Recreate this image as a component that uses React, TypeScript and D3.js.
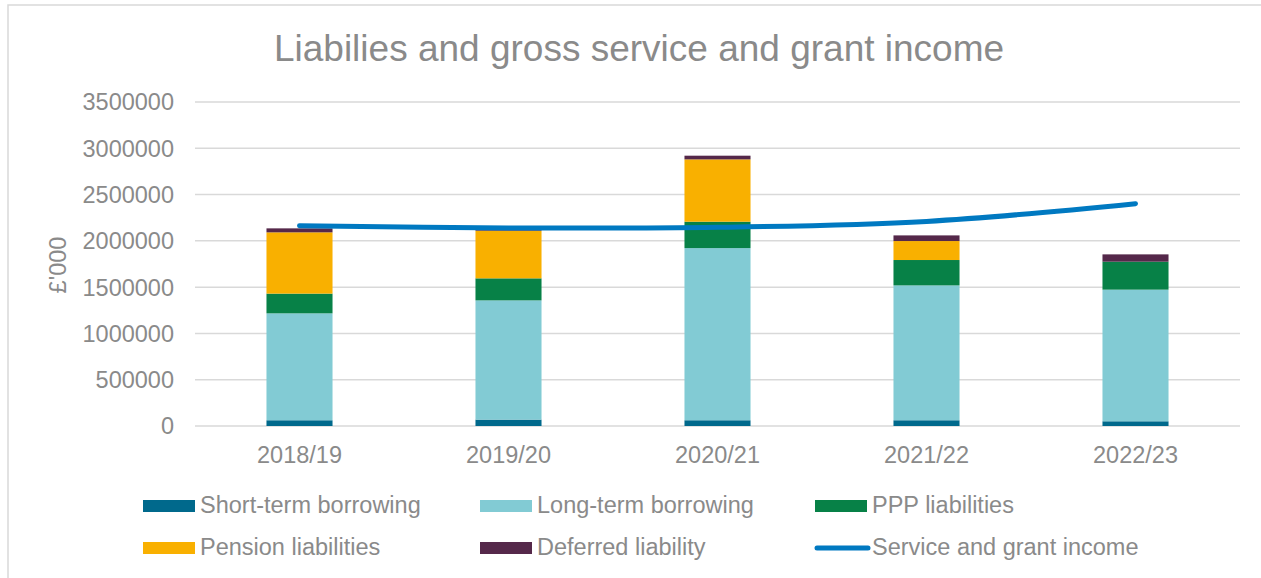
import React from "react";
import * as d3 from "d3";

const categories = ["2018/19", "2019/20", "2020/21", "2021/22", "2022/23"];
const shortTerm = [62000, 69000, 62000, 62000, 51000];
const longTerm = [1155000, 1288000, 1860000, 1457000, 1422000];
const ppp = [213000, 238000, 285000, 274000, 302000];
const pension = [662000, 515000, 673000, 205000, 0];
const deferred = [43000, 20000, 40000, 61000, 79000];
const income = [2164000, 2140000, 2146000, 2210000, 2402000];
const yTicks = [0, 500000, 1000000, 1500000, 2000000, 2500000, 3000000, 3500000];

const seriesNames = ["Short-term borrowing", "Long-term borrowing", "PPP liabilities", "Pension liabilities", "Deferred liability"];
const seriesColors = ["#00698C", "#82CBD4", "#078147", "#F9B000", "#55284A"];
const lineName = "Service and grant income";
const lineColor = "#0079C1";

const W = 1261;
const H = 578;
const textColor = "#8a8a8a";
const gridColor = "#d9d9d9";
const font = "'Liberation Sans', Arial, sans-serif";
const fs = 23.5;

export default function App() {
  const x = d3.scaleBand<string>().domain(categories).range([195, 1240]).paddingInner(0.684).paddingOuter(0.342);
  const xc = (c: string) => (x(c) as number) + x.bandwidth() / 2;
  const y = d3.scaleLinear().domain([0, 3500000]).range([426, 102]);

  const rows = categories.map((c, i) => ({
    cat: c,
    s0: shortTerm[i],
    s1: longTerm[i],
    s2: ppp[i],
    s3: pension[i],
    s4: deferred[i],
  }));
  const stack = d3.stack<any>().keys(["s0", "s1", "s2", "s3", "s4"])(rows);

  const line = d3
    .line<number>()
    .x((_, i) => xc(categories[i]))
    .y((d) => y(d))
    .curve(d3.curveCatmullRom.alpha(0.5));

  const legendItems = [
    { name: seriesNames[0], color: seriesColors[0], col: 0, row: 0, type: "rect" },
    { name: seriesNames[1], color: seriesColors[1], col: 1, row: 0, type: "rect" },
    { name: seriesNames[2], color: seriesColors[2], col: 2, row: 0, type: "rect" },
    { name: seriesNames[3], color: seriesColors[3], col: 0, row: 1, type: "rect" },
    { name: seriesNames[4], color: seriesColors[4], col: 1, row: 1, type: "rect" },
    { name: lineName, color: lineColor, col: 2, row: 1, type: "line" },
  ];
  const colX = [143, 480, 815];
  const rowY = [506, 548];

  return (
    <svg
      width={W}
      height={H}
      style={{ position: "absolute", left: 0, top: 0, background: "#fff" }}
      fontFamily={font}
    >
      <rect x={8} y={5} width={W} height={H} fill="#fff" stroke={gridColor} strokeWidth={1.5} />
      <text x={639} y={61} textAnchor="middle" fontSize={37} fill={textColor}>
        Liabilies and gross service and grant income
      </text>
      {yTicks.map((t) => (
        <g key={t}>
          <line x1={195} x2={1240} y1={y(t)} y2={y(t)} stroke={gridColor} strokeWidth={1.5} />
          <text x={174} y={y(t)} dy="0.36em" textAnchor="end" fontSize={fs} fill={textColor}>
            {t}
          </text>
        </g>
      ))}
      <text
        transform={`translate(66,${265}) rotate(-90)`}
        textAnchor="middle"
        fontSize={fs}
        fill={textColor}
      >
        £'000
      </text>
      {stack.map((layer, si) => (
        <g key={si} fill={seriesColors[si]}>
          {layer.map((d, i) =>
            d[1] - d[0] > 0 ? (
              <rect
                key={i}
                x={x(categories[i])}
                width={x.bandwidth()}
                y={y(d[1])}
                height={y(d[0]) - y(d[1])}
              />
            ) : null
          )}
        </g>
      ))}
      <path
        d={line(income) || ""}
        fill="none"
        stroke={lineColor}
        strokeWidth={5}
        strokeLinecap="round"
        strokeLinejoin="round"
      />
      {categories.map((c) => (
        <text key={c} x={xc(c)} y={463} textAnchor="middle" fontSize={fs} fill={textColor}>
          {c}
        </text>
      ))}
      {legendItems.map((it) => {
        const lx = colX[it.col];
        const ly = rowY[it.row];
        return (
          <g key={it.name}>
            {it.type === "rect" ? (
              <rect x={lx} y={ly - 6} width={52} height={12} fill={it.color} />
            ) : (
              <line x1={lx + 2} x2={lx + 53} y1={ly} y2={ly} stroke={it.color} strokeWidth={5} strokeLinecap="round" />
            )}
            <text x={lx + 57} y={ly + 7} fontSize={fs} fill={textColor}>
              {it.name}
            </text>
          </g>
        );
      })}
    </svg>
  );
}
